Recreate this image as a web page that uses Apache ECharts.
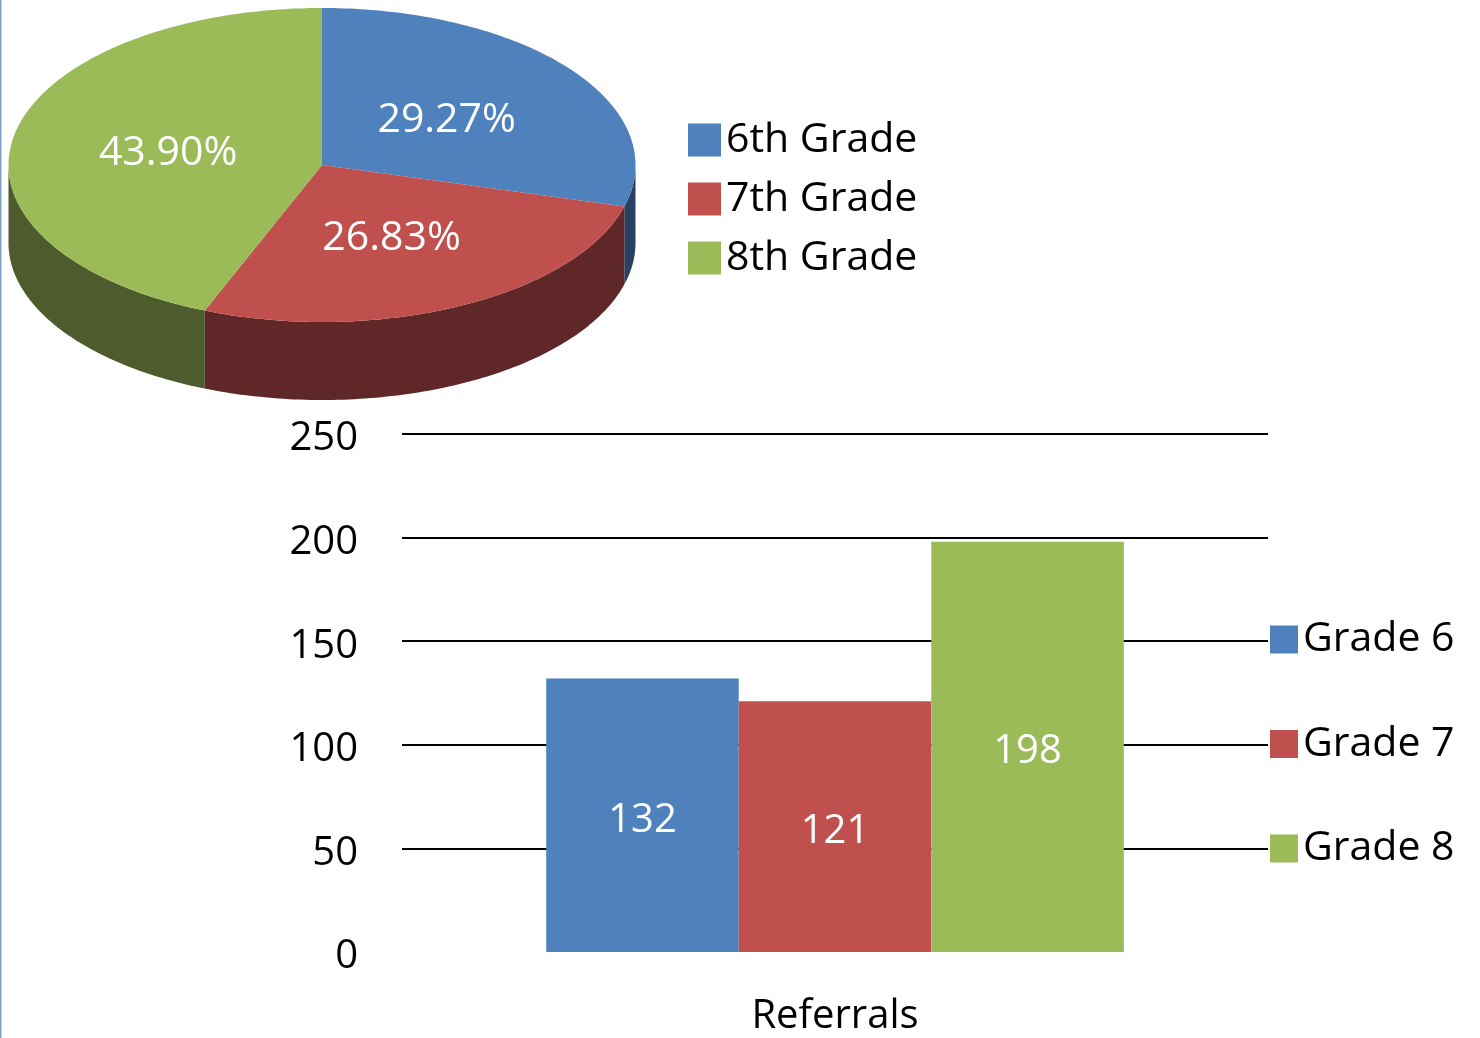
<!DOCTYPE html>
<html>
<head>
<meta charset="utf-8">
<script src="https://cdn.jsdelivr.net/npm/echarts@6/dist/echarts.min.js"></script>
<style>
  html, body { margin: 0; padding: 0; background: #fff; }
  #chart { width: 1480px; height: 1038px; }
</style>
</head>
<body>
<div id="chart"></div>
<script>
// pie (top) — slice names and values
const pieNames = ['6th Grade', '7th Grade', '8th Grade']
const pieValues = [132, 121, 198]

// bars (bottom)
const categories = ['Referrals']
const barNames = ['Grade 6', 'Grade 7', 'Grade 8']
const barValues = [132, 121, 198]

const yTicks = [0, 50, 100, 150, 200, 250]

const topColors = ['#4f81bd', '#c0504d', '#9bbb59']
const sideColors = ['#2b4161', '#602728', '#4e5b2c']

const FONT = "'Open Sans', 'Noto Sans', sans-serif"

// ellipse geometry of the fake 3d pie
const PIE = { cx: 322, cy: 165, rx: 313.5, ry: 157, depth: 78 }

const pieTotal = pieValues.reduce((a, b) => a + b, 0)

function ellPt(theta, dy) {
  return [PIE.cx + PIE.rx * Math.sin(theta), PIE.cy - PIE.ry * Math.cos(theta) + (dy || 0)]
}

function arcPts(a, b, dy) {
  const pts = []
  const steps = Math.max(2, Math.ceil((b - a) / (Math.PI / 180)))
  for (let k = 0; k <= steps; k++) {
    pts.push(ellPt(a + (b - a) * k / steps, dy))
  }
  return pts
}

function renderSlice(params, api) {
  const idx = api.value(0)
  const val = api.value(1)
  let before = 0
  for (let i = 0; i < idx; i++) before += pieValues[i]
  const a = before / pieTotal * Math.PI * 2
  const b = (before + val) / pieTotal * Math.PI * 2
  const children = []

  // visible side: front half of the cylinder (90deg..270deg)
  const sa = Math.max(a, Math.PI / 2)
  const sb = Math.min(b, Math.PI * 1.5)
  if (sb > sa) {
    const topArc = arcPts(sa, sb, 0)
    const botArc = arcPts(sa, sb, PIE.depth).reverse()
    children.push({
      type: 'polygon',
      shape: { points: topArc.concat(botArc) },
      style: { fill: sideColors[idx] }
    })
  }

  children.push({
    type: 'polygon',
    shape: { points: [[PIE.cx, PIE.cy]].concat(arcPts(a, b, 0)) },
    style: { fill: topColors[idx] }
  })

  const mid = (a + b) / 2
  children.push({
    type: 'text',
    x: PIE.cx + PIE.rx * 0.5 * Math.sin(mid),
    y: PIE.cy - PIE.ry * 0.5 * Math.cos(mid) + 3,
    style: {
      text: (val / pieTotal * 100).toFixed(2) + '%',
      fill: '#fff',
      font: '41px ' + FONT,
      align: 'center',
      verticalAlign: 'middle'
    }
  })
  return { type: 'group', children }
}

const pieSeries = pieNames.map((name, i) => ({
  name,
  type: 'custom',
  coordinateSystem: 'none',
  renderItem: renderSlice,
  itemStyle: { color: topColors[i] },
  silent: true,
  animation: false,
  data: [[i, pieValues[i]]]
}))

const barSeries = barNames.map((name, i) => ({
  name,
  type: 'bar',
  barGap: '0%',
  barCategoryGap: '33.3%',
  itemStyle: { color: topColors[i] },
  label: {
    show: true,
    position: 'inside',
    offset: [0, 5],
    color: '#fff',
    fontSize: 40,
    fontFamily: FONT
  },
  data: [barValues[i]]
}))

const chart = echarts.init(document.getElementById('chart'), null, { renderer: 'canvas' })

chart.setOption({
  backgroundColor: '#fff',
  animation: false,
  textStyle: { fontFamily: FONT },
  graphic: [
    { type: 'rect', shape: { x: 0, y: 0, width: 1.5, height: 1038 }, style: { fill: '#7f9fc4' } }
  ],
  legend: [
    {
      data: pieNames,
      orient: 'vertical',
      left: 688,
      top: 119.5,
      padding: 0,
      itemWidth: 33,
      itemHeight: 33,
      itemGap: 18,
      icon: 'rect',
      selectedMode: false,
      textStyle: { fontSize: 41, color: '#000', fontFamily: FONT }
    },
    {
      data: barNames,
      orient: 'vertical',
      left: 1270,
      top: 619,
      padding: 0,
      itemWidth: 28,
      itemHeight: 28,
      itemGap: 63.5,
      icon: 'rect',
      selectedMode: false,
      textStyle: { fontSize: 41, color: '#000', fontFamily: FONT }
    }
  ],
  grid: { left: 402, right: 212, top: 434, bottom: 86, containLabel: false },
  xAxis: {
    type: 'category',
    data: categories,
    axisLine: { show: false },
    axisTick: { show: false },
    axisLabel: { color: '#000', fontSize: 40, margin: 45, fontFamily: FONT }
  },
  yAxis: {
    type: 'value',
    min: yTicks[0],
    max: yTicks[yTicks.length - 1],
    interval: yTicks[1] - yTicks[0],
    axisLine: { show: false },
    axisTick: { show: false },
    axisLabel: {
      color: '#000',
      margin: 44,
      formatter: (v) => '{t|' + v + '}',
      rich: { t: { fontSize: 40, fontFamily: FONT, color: '#000', padding: [10, 0, 0, 0] } }
    },
    splitLine: { showMinLine: false, lineStyle: { color: '#000', width: 2 } }
  },
  series: pieSeries.concat(barSeries)
})
</script>
</body>
</html>
